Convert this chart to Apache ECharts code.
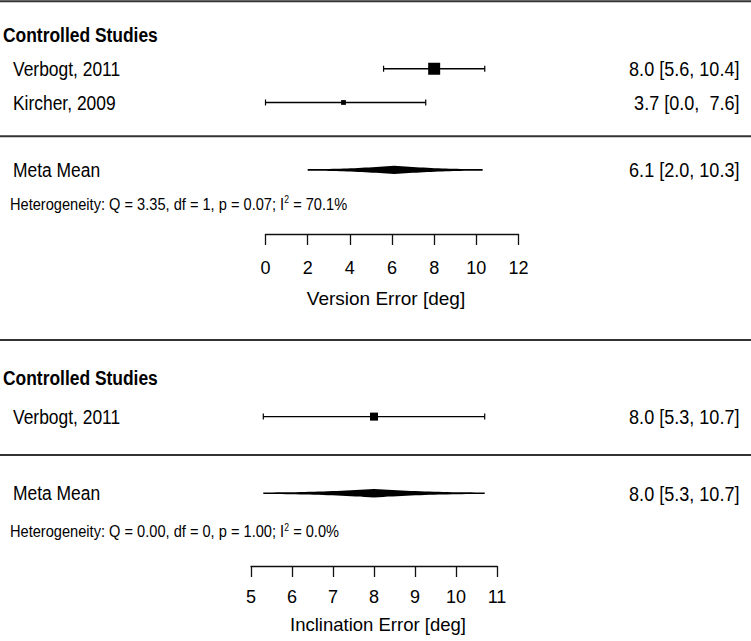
<!DOCTYPE html>
<html><head><meta charset="utf-8">
<script src="https://cdn.jsdelivr.net/npm/echarts@6/dist/echarts.min.js"></script>
<style>html,body{margin:0;padding:0;background:#fff}#c{width:751px;height:641px}</style>
</head><body><div id="c"></div>
<script>
// ---------- Panel 1: Version Error ----------
const heading1 = 'Controlled Studies';
const studies1 = ['Verbogt, 2011', 'Kircher, 2009'];
const means1 = [8.0, 3.7];
const lowers1 = [5.6, 0.0];
const uppers1 = [10.4, 7.6];
const weights1 = [71.5, 28.5];
const metaLabel1 = 'Meta Mean';
const meta1 = [6.1, 2.0, 10.3];           // mean, lower, upper
const het1 = ['3.35', '1', '0.07', '70.1']; // Q, df, p, I2
const ticks1 = [0, 2, 4, 6, 8, 10, 12];
const axisTitle1 = 'Version Error [deg]';

// ---------- Panel 2: Inclination Error ----------
const heading2 = 'Controlled Studies';
const studies2 = ['Verbogt, 2011'];
const means2 = [8.0];
const lowers2 = [5.3];
const uppers2 = [10.7];
const weights2 = [100];
const metaLabel2 = 'Meta Mean';
const meta2 = [8.0, 5.3, 10.7];
const het2 = ['0.00', '0', '1.00', '0.0'];
const ticks2 = [5, 6, 7, 8, 9, 10, 11];
const axisTitle2 = 'Inclination Error [deg]';

const FONT = "'Liberation Sans', Arial, Helvetica, sans-serif";
const FS = 21, SX = 0.83;      // narrow-looking text (horizontally condensed)
const AXFS = 18;
const chart = echarts.init(document.getElementById('c'), null, {renderer: 'svg', width: 751, height: 641});

function buildPanel(p, idx) {
  const n = p.studies.length;
  const allL = p.lowers.concat([p.meta[1]]).map(v => v.toFixed(1));
  const allU = p.uppers.concat([p.meta[2]]).map(v => v.toFixed(1));
  const wl = Math.max(...allL.map(s => s.length));
  const wu = Math.max(...allU.map(s => s.length));
  const ci = (m, l, u) => m.toFixed(1) + ' [' + l.toFixed(1).padStart(wl, ' ') + ', ' + u.toFixed(1).padStart(wu, ' ') + ']';
  const maxW = Math.max(...p.weights);
  const items = [];
  items.push({kind: 'rule', row: -1});
  items.push({kind: 'heading', row: 0, text: p.heading});
  p.studies.forEach((s, i) => items.push({kind: 'study', row: i + 1, text: s,
    m: p.means[i], l: p.lowers[i], u: p.uppers[i], w: p.weights[i] / maxW,
    right: ci(p.means[i], p.lowers[i], p.uppers[i])}));
  items.push({kind: 'rule', row: n + 1});
  items.push({kind: 'meta', row: n + 2, text: p.metaLabel, m: p.meta[0], l: p.meta[1], u: p.meta[2],
    right: ci(p.meta[0], p.meta[1], p.meta[2])});
  items.push({kind: 'het', row: n + 3,
    text: 'Heterogeneity: Q = ' + p.het[0] + ', df = ' + p.het[1] + ', p = ' + p.het[2] + '; I{sup|2} = ' + p.het[3] + '%'});

  const xmin = p.ticks[0];
  const renderItem = function (params, api) {
    const it = items[params.dataIndex];
    const y = api.coord([xmin, it.row])[1];
    const W = api.getWidth();
    const txt = (text, x, font, align, sx) => ({type: 'text', x, y, scaleX: sx || SX,
      style: {text, x: 0, y: 0, font, fill: '#000', align: align || 'left', verticalAlign: 'middle'}});
    if (it.kind === 'rule') {
      return {type: 'line', shape: {x1: 0, y1: y, x2: W, y2: y}, style: {stroke: '#333', lineWidth: 2}};
    }
    if (it.kind === 'heading') return txt(it.text, 3, 'bold ' + FS + 'px ' + FONT);
    if (it.kind === 'het') {
      return {type: 'text', x: 10, y, scaleX: 0.86, style: {text: it.text, x: 0, y: 0, font: '17px ' + FONT, fill: '#000', verticalAlign: 'middle',
        rich: {sup: {fontSize: 10, fontFamily: FONT, fill: '#000', verticalAlign: 'top', padding: [0, 0, 7, 0]}}}};
    }
    const xl = api.coord([it.l, it.row])[0];
    const xu = api.coord([it.u, it.row])[0];
    const xm = api.coord([it.m, it.row])[0];
    const children = [txt(it.text, 13, FS + 'px ' + FONT), txt(it.right, 739.5, FS + 'px ' + FONT, 'right', 0.86)];
    if (it.kind === 'study') {
      const s = p.sqMax * it.w;
      children.push({type: 'line', shape: {x1: xl, y1: y, x2: xu, y2: y}, style: {stroke: '#000', lineWidth: 1.4}});
      children.push({type: 'line', shape: {x1: xl, y1: y - 3, x2: xl, y2: y + 3}, style: {stroke: '#000', lineWidth: 1.2}});
      children.push({type: 'line', shape: {x1: xu, y1: y - 3, x2: xu, y2: y + 3}, style: {stroke: '#000', lineWidth: 1.2}});
      children.push({type: 'rect', shape: {x: xm - s / 2, y: y - s / 2, width: s, height: s}, style: {fill: '#000'}});
    } else {
      // spindle-shaped summary polygon
      const pts = [];
      const N = 24, H = 4.2, h0 = 0.8;
      for (let k = 0; k <= N; k++) { const t = k / N; pts.push([xl + (xm - xl) * t, y - (h0 + (H - h0) * t * t)]); }
      for (let k = 1; k <= N; k++) { const t = 1 - k / N; pts.push([xm + (xu - xm) * (k / N), y - (h0 + (H - h0) * t * t)]); }
      for (let k = 0; k <= N; k++) { const t = k / N; pts.push([xu - (xu - xm) * t, y + (h0 + (H - h0) * t * t)]); }
      for (let k = 1; k <= N; k++) { const t = 1 - k / N; pts.push([xm - (xm - xl) * (k / N), y + (h0 + (H - h0) * t * t)]); }
      children.push({type: 'polygon', shape: {points: pts}, style: {fill: '#000'}});
    }
    return {type: 'group', children};
  };
  return {
    grid: {left: p.grid.left, right: p.grid.right, top: p.grid.top, bottom: p.grid.bottom, containLabel: false, outerBoundsMode: 'none'},
    xAxis: {gridIndex: idx, type: 'value', min: p.ticks[0], max: p.ticks[p.ticks.length - 1], interval: p.ticks[1] - p.ticks[0],
      axisLine: {show: true, onZero: false, lineStyle: {color: '#111', width: 1.3}},
      axisTick: {show: true, length: 11, lineStyle: {color: '#111', width: 1.3}},
      splitLine: {show: false},
      axisLabel: {color: '#000', fontSize: AXFS, fontFamily: FONT, margin: p.labelMargin, hideOverlap: false, showMinLabel: true, showMaxLabel: true},
      name: p.axisTitle, nameLocation: 'middle', nameGap: p.nameGap,
      nameTextStyle: {color: '#000', fontSize: p.nameSize, fontFamily: FONT, padding: p.namePad}},
    yAxis: {gridIndex: idx, type: 'value', inverse: true, min: -1, max: n + 3.9, show: false},
    series: {type: 'custom', xAxisIndex: idx, yAxisIndex: idx, clip: false, silent: true,
      data: items.map(it => [xmin, it.row]), encode: {x: 0, y: 1}, renderItem}
  };
}

const p1 = buildPanel({heading: heading1, studies: studies1, means: means1, lowers: lowers1, uppers: uppers1,
  weights: weights1, metaLabel: metaLabel1, meta: meta1, het: het1, ticks: ticks1, axisTitle: axisTitle1,
  sqMax: 12, labelMargin: 25, nameGap: 55, nameSize: 19, namePad: [0, 12, 0, 0],
  grid: {left: 265.5, right: 232.5, top: 1.3, bottom: 407}}, 0);
const p2 = buildPanel({heading: heading2, studies: studies2, means: means2, lowers: lowers2, uppers: uppers2,
  weights: weights2, metaLabel: metaLabel2, meta: meta2, het: het2, ticks: ticks2, axisTitle: axisTitle2,
  sqMax: 8, labelMargin: 22, nameGap: 49, nameSize: 18.5, namePad: [0, 0, 0, 8],
  grid: {left: 251, right: 254, top: 340, bottom: 75}}, 1);

chart.setOption({
  animation: false,
  backgroundColor: '#fff',
  grid: [p1.grid, p2.grid],
  xAxis: [p1.xAxis, p2.xAxis],
  yAxis: [p1.yAxis, p2.yAxis],
  series: [p1.series, p2.series]
});
</script></body></html>
